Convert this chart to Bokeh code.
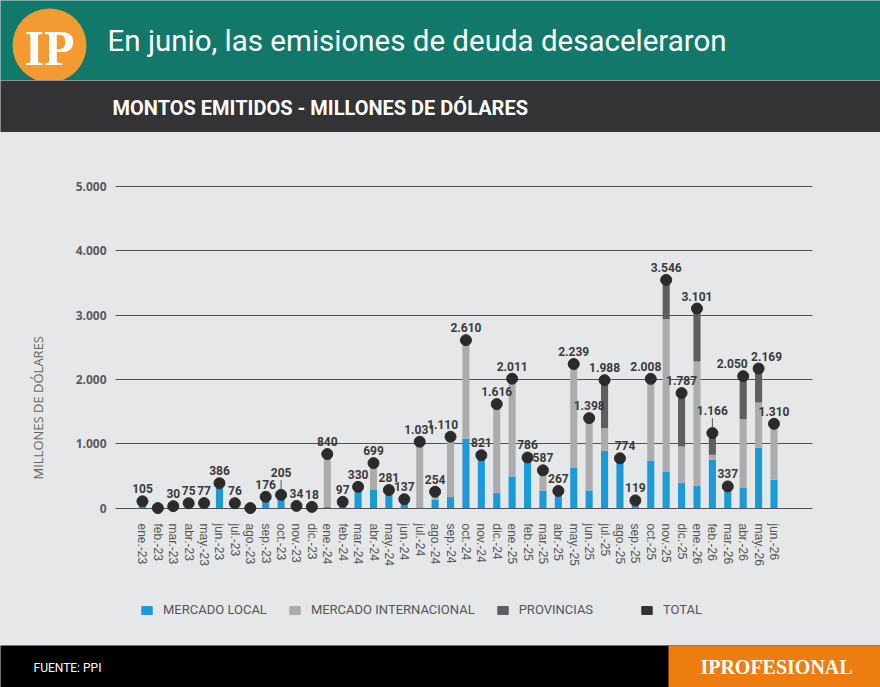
from bokeh.plotting import figure
from bokeh.models import (Range1d, FixedTicker, Legend, LegendItem, ColumnDataSource, Label, Title)
from bokeh.layouts import column
from bokeh.embed import file_html
from bokeh.resources import INLINE
from bokeh.core.properties import value

# ---------------- data ----------------
months = ["ene.-23", "feb.-23", "mar.-23", "abr.-23", "may.-23", "jun.-23", "jul.-23", "ago.-23",
          "sep.-23", "oct.-23", "nov.-23", "dic.-23",
          "ene.-24", "feb.-24", "mar.-24", "abr.-24", "may.-24", "jun.-24", "jul.-24", "ago.-24",
          "sep.-24", "oct.-24", "nov.-24", "dic.-24",
          "ene.-25", "feb.-25", "mar.-25", "abr.-25", "may.-25", "jun.-25", "jul.-25", "ago.-25",
          "sep.-25", "oct.-25", "nov.-25", "dic.-25",
          "ene.-26", "feb.-26", "mar.-26", "abr.-26", "may.-26", "jun.-26"]

mercado_local = [105, 0, 30, 75, 77, 386, 76, 0, 176, 205, 34, 18,
                 20, 97, 330, 290, 281, 137, 10, 130, 171, 1077, 760, 233,
                 492, 786, 269, 267, 625, 272, 890, 774, 119, 740, 569, 388,
                 347, 750, 337, 321, 942, 440]
mercado_internacional = [0, 0, 0, 0, 0, 0, 0, 0, 0, 0, 0, 0,
                         820, 0, 0, 409, 0, 0, 1021, 124, 939, 1533, 61, 1383,
                         1519, 0, 318, 0, 1614, 1126, 352, 0, 0, 1268, 2366, 570,
                         1930, 78, 0, 1061, 699, 870]
provincias = [0, 0, 0, 0, 0, 0, 0, 0, 0, 0, 0, 0,
              0, 0, 0, 0, 0, 0, 0, 0, 0, 0, 0, 0,
              0, 0, 0, 0, 0, 0, 746, 0, 0, 0, 611, 829,
              824, 338, 0, 668, 528, 0]
total = [105, 0, 30, 75, 77, 386, 76, 0, 176, 205, 34, 18,
         840, 97, 330, 699, 281, 137, 1031, 254, 1110, 2610, 821, 1616,
         2011, 786, 587, 267, 2239, 1398, 1988, 774, 119, 2008, 3546, 1787,
         3101, 1166, 337, 2050, 2169, 1310]

y_ticks = [0, 1000, 2000, 3000, 4000, 5000]
y_tick_labels = ["0", "1.000", "2.000", "3.000", "4.000", "5.000"]

# label placement tweaks (screen pixels), as in the reference
leader_labels = ["oct.-23", "feb.-26"]
label_shift_x = {"sep.-24": -8, "ago.-25": 5, "oct.-25": -5, "abr.-26": -11, "may.-26": 8}

# ---------------- styles ----------------
W = 880
GREEN = "#12796a"
DARK = "#333234"
BODY = "#e6e7e8"
BLUE = "#1b9ad6"
LGREY = "#acacac"
DGREY = "#5e5e5e"
DOT = "#2b2b2b"
SANS = "Roboto"


def band(h, color):
    f = figure(width=W, height=h, x_range=Range1d(0, W), y_range=Range1d(0, h),
               output_backend="svg", toolbar_location=None, min_border=0,
               x_axis_location=None, y_axis_location=None,
               background_fill_color=color, border_fill_color=color,
               outline_line_color=None, frame_align=False)
    f.grid.visible = False
    return f


# header
hdr = band(80, GREEN)
hdr.ellipse(x=49, y=35, width=74, height=74, fill_color="#f39a33", line_color=None)
hdr.add_layout(Label(x=49, y=33, text="IP", text_align="center", text_baseline="middle",
                     text_font="Liberation Serif", text_font_style="bold",
                     text_font_size="50px", text_color="white"))
hdr.add_layout(Label(x=107, y=40, text="En junio, las emisiones de deuda desaceleraron",
                     text_baseline="middle", text_font=SANS,
                     text_font_size="29.5px", text_color="white"))

sub = band(52, DARK)
sub.add_layout(Label(x=112, y=25, text="MONTOS EMITIDOS - MILLONES DE DÓLARES",
                     text_baseline="middle", text_font=SANS, text_font_style="bold",
                     text_font_size="20px", text_color="white"))

# main chart
x = list(range(len(months)))
labels = [f"{v:,}".replace(",", ".") if v > 0 else "" for v in total]
dy = [-18 if m in leader_labels else -8 for m in months]
dx = [label_shift_x.get(m, 0) for m in months]
src = ColumnDataSource(dict(x=x, local=mercado_local, intl=mercado_internacional,
                            prov=provincias, total=total, label=labels, dx=dx, dy=dy))

p = figure(width=W, height=453, x_range=Range1d(-1.75, 43.5), y_range=Range1d(-100, 5200),
           output_backend="svg", toolbar_location=None, frame_align=False,
           min_border_left=115, min_border_right=68, min_border_top=41, min_border_bottom=71,
           background_fill_color=BODY, border_fill_color=BODY, outline_line_color=None)

bars = p.vbar_stack(["local", "intl", "prov"], x="x", width=0.46,
                    color=[BLUE, LGREY, DGREY], line_color=None, source=src)
dots = p.scatter("x", "total", size=11, color=DOT, source=src)

# leader lines
lx = [i for i, m in enumerate(months) if m in leader_labels]
ly0 = [total[i] + 90 for i in lx]
ly1 = [total[i] + 230 for i in lx]
p.segment(x0=lx, y0=ly0, x1=lx, y1=ly1, line_color="#555555", line_width=1)

p.text("x", "total", text="label", source=src, x_offset="dx", y_offset="dy",
       text_align="center", text_baseline="bottom",
       text_font=value("Roboto"), text_font_style="bold",
       text_font_size="12px", text_color="#3a3a3a")

# y axis
p.yaxis.ticker = FixedTicker(ticks=y_ticks)
p.yaxis.major_label_overrides = dict(zip(y_ticks, y_tick_labels))
p.yaxis.axis_line_color = None
p.yaxis.major_tick_line_color = None
p.yaxis.minor_tick_line_color = None
p.yaxis.major_label_standoff = 3
p.yaxis.major_label_text_font = "Open Sans"
p.yaxis.major_label_text_font_style = "bold"
p.yaxis.major_label_text_font_size = "12px"
p.yaxis.major_label_text_color = "#5a5b5d"

p.add_layout(Title(text="MILLONES DE DÓLARES", align="left", offset=35, standoff=52,
                   text_font="Open Sans", text_font_style="normal",
                   text_font_size="13px", text_color="#666666"), "left")

p.ygrid.ticker = FixedTicker(ticks=y_ticks)
p.ygrid.grid_line_color = "#505050"
p.ygrid.grid_line_width = 1
p.xgrid.visible = False

# x axis
p.xaxis.ticker = FixedTicker(ticks=x)
p.xaxis.major_label_overrides = {i: m for i, m in enumerate(months)}
p.xaxis.major_label_orientation = "vertical"
p.xaxis.axis_line_color = None
p.xaxis.major_tick_line_color = None
p.xaxis.minor_tick_line_color = None
p.xaxis.major_label_standoff = 3
p.xaxis.major_label_text_font = "Liberation Sans"
p.xaxis.major_label_text_font_size = "12px"
p.xaxis.major_label_text_color = "#555555"

# legend strip (swatch proxies: zero-height bars, never visible themselves)
leg = band(60, BODY)
sw_local = leg.vbar(x=[-50], top=[0], bottom=[0], width=1, color=BLUE)
sw_intl = leg.vbar(x=[-50], top=[0], bottom=[0], width=1, color=LGREY)
sw_prov = leg.vbar(x=[-50], top=[0], bottom=[0], width=1, color=DGREY)
sw_tot = leg.vbar(x=[-50], top=[0], bottom=[0], width=1, color="#333333")


def style_legend(lg):
    lg.background_fill_alpha = 0
    lg.border_line_color = None
    lg.label_text_font = SANS
    lg.label_text_font_size = "13px"
    lg.label_text_color = "#555555"
    lg.glyph_width = 13
    lg.glyph_height = 10
    lg.label_standoff = 10
    lg.spacing = 21
    lg.padding = 0
    lg.margin = 0
    lg.orientation = "horizontal"


legend_a = Legend(items=[
    LegendItem(label="MERCADO LOCAL", renderers=[sw_local]),
    LegendItem(label="MERCADO INTERNACIONAL", renderers=[sw_intl]),
    LegendItem(label="PROVINCIAS", renderers=[sw_prov]),
], location=(140, 28))
legend_b = Legend(items=[LegendItem(label="TOTAL", renderers=[sw_tot])],
                  location=(640, 28))
style_legend(legend_a)
style_legend(legend_b)
leg.add_layout(legend_a)
leg.add_layout(legend_b)

# footer
foot = band(42, "#000000")
foot.quad(left=668, right=880, bottom=0, top=42, fill_color="#ee7d11", line_color=None)
foot.add_layout(Label(x=33, y=20, text="FUENTE: PPI", text_baseline="middle",
                      text_font=SANS, text_font_size="12px", text_color="white"))
foot.add_layout(Label(x=776, y=21, text="IPROFESIONAL", text_align="center",
                      text_baseline="middle", text_font="Liberation Serif",
                      text_font_style="bold", text_font_size="20px", text_color="white"))

layout = column(hdr, sub, p, leg, foot, spacing=0, styles={"background-color": BODY})
open("out.html", "w").write(file_html(layout, INLINE))
